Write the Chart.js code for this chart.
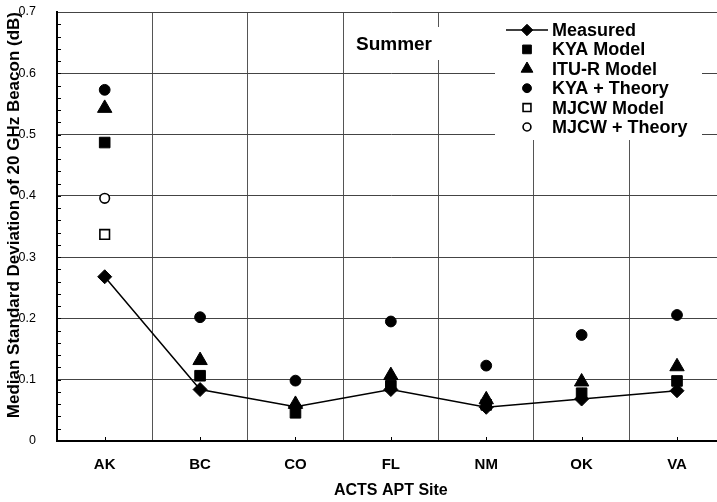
<!DOCTYPE html>
<html>
<head>
<meta charset="utf-8">
<script src="https://cdn.jsdelivr.net/npm/chart.js@4.4.1/dist/chart.umd.min.js"></script>
<style>
  html, body { margin: 0; padding: 0; background: #fff; overflow: hidden; }
  canvas { display: block; }
</style>
</head>
<body>
<canvas id="chart" width="734" height="502"></canvas>
<script>
var categories = ['AK', 'BC', 'CO', 'FL', 'NM', 'OK', 'VA']
var measured = [0.268, 0.084, 0.056, 0.084, 0.055, 0.0685, 0.082]
var kyaModel = [0.487, 0.1065, 0.046, 0.090, 0.059, 0.078, 0.098]
var ituModel = [0.543, 0.1315, 0.060, 0.107, 0.0675, 0.0966, 0.1214]
var kyaTheory = [0.573, 0.202, 0.0985, 0.195, 0.123, 0.173, 0.2056]
var mjcwModel = [0.337, null, null, null, null, null, null]
var mjcwTheory = [0.396, null, null, null, null, null, null]
var yTickLabels = ['0', '0.1', '0.2', '0.3', '0.4', '0.5', '0.6', '0.7']

var FONT = "'Liberation Sans', Arial, Helvetica, sans-serif"
Chart.defaults.font.family = FONT
Chart.defaults.color = '#000'

function marker (label, data, style, radius, filled, order) {
  return {
    label: label,
    data: data,
    showLine: false,
    pointStyle: style,
    pointRadius: radius,
    pointBackgroundColor: filled ? '#000' : '#fff',
    pointBorderColor: '#000',
    pointBorderWidth: filled ? 1 : 1.6,
    order: order
  }
}

// inward minor ticks, the legend box and the season label
var overlay = {
  id: 'overlay',
  afterDraw: function (chart) {
    var ctx = chart.ctx
    var xs = chart.scales.x
    var ys = chart.scales.y
    var area = chart.chartArea
    ctx.save()
    ctx.strokeStyle = '#000'
    ctx.lineWidth = 1
    ctx.beginPath()
    for (var i = 1; i < 35; i++) {
      var py = Math.round(ys.getPixelForValue(i * 0.02)) + 0.5
      ctx.moveTo(area.left, py)
      ctx.lineTo(area.left + 4, py)
    }
    for (var j = 0; j < categories.length; j++) {
      var px = Math.round(xs.getPixelForValue(j)) + 0.5
      ctx.moveTo(px, area.bottom)
      ctx.lineTo(px, area.bottom - 4)
    }
    ctx.stroke()

    // Summer label
    ctx.fillStyle = '#fff'
    ctx.fillRect(346, 27, 95, 33)
    ctx.fillStyle = '#000'
    ctx.font = 'bold 19px ' + FONT
    ctx.textAlign = 'center'
    ctx.textBaseline = 'middle'
    ctx.fillText('Summer', 394, 45)

    // legend
    ctx.fillStyle = '#fff'
    ctx.fillRect(495, 13, 207, 127)
    ctx.font = 'bold 18px ' + FONT
    ctx.textAlign = 'left'
    chart.data.datasets.forEach(function (ds, k) {
      var ly = 30 + k * 19.4
      var sx = 527
      if (ds.showLine !== false) {
        ctx.strokeStyle = '#000'
        ctx.lineWidth = 1.5
        ctx.beginPath()
        ctx.moveTo(506, ly)
        ctx.lineTo(548, ly)
        ctx.stroke()
      }
      ctx.fillStyle = ds.pointBackgroundColor
      ctx.strokeStyle = ds.pointBorderColor
      ctx.lineWidth = ds.pointBorderWidth
      Chart.helpers.drawPoint(ctx, {
        pointStyle: ds.pointStyle,
        radius: ds.pointRadius * 0.82,
        borderWidth: ds.pointBorderWidth,
        rotation: 0
      }, sx, ly)
      ctx.fillStyle = '#000'
      ctx.fillText(ds.label, 552, ly + 1)
    })
    ctx.restore()
  }
}

new Chart(document.getElementById('chart'), {
  type: 'line',
  data: {
    labels: categories,
    datasets: [
      {
        label: 'Measured',
        data: measured,
        borderColor: '#000',
        borderWidth: 1.5,
        pointStyle: 'rectRot',
        pointRadius: 7,
        pointBackgroundColor: '#000',
        pointBorderColor: '#000',
        pointBorderWidth: 1,
        tension: 0,
        fill: false,
        order: 10
      },
      marker('KYA Model', kyaModel, 'rect', 7.5, true, 3),
      marker('ITU-R Model', ituModel, 'triangle', 8.3, true, 2),
      marker('KYA + Theory', kyaTheory, 'circle', 5.4, true, 1),
      marker('MJCW Model', mjcwModel, 'rect', 6.8, false, 4),
      marker('MJCW + Theory', mjcwTheory, 'circle', 4.8, false, 5)
    ]
  },
  options: {
    responsive: false,
    animation: false,
    layout: { padding: { top: 12, right: 1, left: 0, bottom: 0 } },
    plugins: {
      legend: { display: false },
      tooltip: { enabled: false }
    },
    scales: {
      x: {
        type: 'category',
        offset: true,
        grid: {
          offset: true,
          color: '#555',
          lineWidth: 1,
          drawTicks: true,
          tickLength: 14,
          tickColor: 'rgba(0,0,0,0)'
        },
        border: { color: '#000', width: 2 },
        ticks: { padding: 1, font: { size: 15, weight: 'bold' } },
        title: {
          display: true,
          text: 'ACTS APT Site',
          font: { size: 16, weight: 'bold' },
          padding: { top: 0, bottom: 2 }
        },
        afterFit: function (scale) { scale.height = 61 }
      },
      y: {
        min: 0,
        max: 0.7,
        grid: {
          color: '#444',
          lineWidth: 1,
          drawTicks: true,
          tickLength: 20,
          tickColor: 'rgba(0,0,0,0)'
        },
        border: { color: '#000', width: 2 },
        ticks: {
          stepSize: 0.1,
          padding: 1,
          font: { size: 12.5 },
          callback: function (v, i) { return yTickLabels[i] }
        },
        title: {
          display: true,
          text: 'Median Standard Deviation of 20 GHz Beacon (dB)',
          align: 'end',
          font: { size: 17, weight: 'bold' },
          padding: { top: 4, bottom: 0 }
        },
        afterFit: function (scale) { scale.width = 57 }
      }
    }
  },
  plugins: [overlay]
})
</script>
</body>
</html>
